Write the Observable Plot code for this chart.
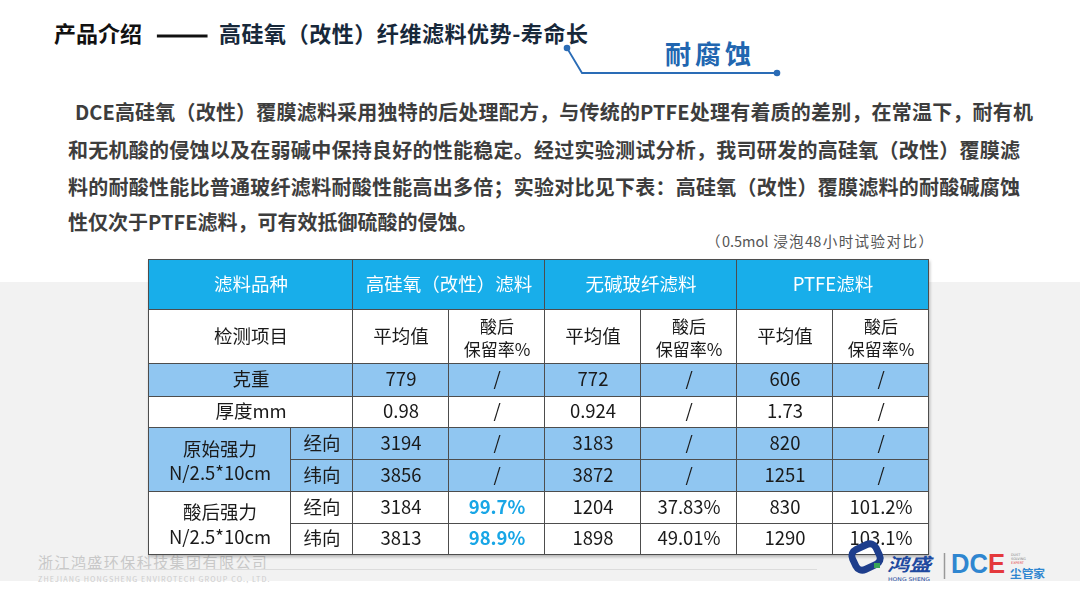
<!DOCTYPE html>
<html><head><meta charset="utf-8">
<script src="https://cdn.jsdelivr.net/npm/d3@7"></script>
<script src="https://cdn.jsdelivr.net/npm/@observablehq/plot@0.6"></script>
<style>
body{margin:0;background:#fff;}
#page{position:relative;width:1080px;height:606px;overflow:hidden;background:#fff;font-family:"Noto Sans CJK SC","Noto Sans",sans-serif;}
.abs{position:absolute;white-space:nowrap;}
#band{left:0;top:282px;width:1080px;height:299px;background:#f2f2f2;}
.t{top:17px;font-size:22px;font-weight:700;line-height:30px;}
#dash{transform-origin:0 50%;transform:scale(1.4,1);-webkit-text-stroke:0.9px #111;}
.para{font-size:20px;font-weight:700;color:#3d3d3d;line-height:36px;height:36px;text-align:justify;text-align-last:justify;}
#note{left:706px;top:230px;width:227px;font-size:14.5px;line-height:22px;color:#555;text-align:justify;text-align-last:justify;}
#sub{left:665px;top:36px;font-size:26px;font-weight:700;color:#2166b0;letter-spacing:4px;line-height:34px;}
#footcn{left:38px;top:551px;font-size:15px;letter-spacing:1.45px;color:#c8c8c8;line-height:22px;}
#footen{left:38px;top:574px;font-size:7.2px;letter-spacing:1.1px;color:#cdcdcd;line-height:10px;}
#tbl{left:148px;top:259px;}
#tbl svg{filter:drop-shadow(1px 2px 1.5px rgba(0,0,0,0.25));}
#deco,#logo{left:0;top:0;}
</style></head>
<body><div id="page">
<div id="band" class="abs"></div>
<div class="abs t" style="left:54px;color:#111;">产品介绍</div>
<div id="dash" class="abs t" style="left:156px;color:#111;">——</div>
<div class="abs t" style="left:219px;color:#17283a;letter-spacing:0.55px;">高硅氧（改性）纤维滤料优势-寿命长</div>
<div id="sub" class="abs">耐腐蚀</div>
<div id="p1" class="abs para" style="left:75px;top:94px;width:958px;"></div>
<div id="p2" class="abs para" style="left:68px;top:132px;width:952px;"></div>
<div id="p3" class="abs para" style="left:68px;top:169px;width:952px;"></div>
<div id="p4" class="abs para" style="left:68px;top:204px;text-align:left;text-align-last:left;"></div>
<div id="note" class="abs"></div>
<div id="footcn" class="abs">浙江鸿盛环保科技集团有限公司</div>
<div id="footen" class="abs">ZHEJIANG HONGSHENG ENVIROTECH GROUP CO., LTD.</div>
<svg id="deco" class="abs" width="1080" height="606" style="pointer-events:none;">
  <polyline points="567,48 582,73 777,73" fill="none" stroke="#2a6cb6" stroke-width="1.8"/>
  <circle cx="567" cy="48" r="3.3" fill="#2a6cb6"/>
  <circle cx="777" cy="73" r="3.3" fill="#2a6cb6"/>
  <line x1="38" y1="569.5" x2="817" y2="569.5" stroke="#dcdcdc" stroke-width="1"/>
</svg>
<div id="tbl" class="abs"></div>
<svg id="logo" class="abs" width="1080" height="606" style="pointer-events:none;">
  <g transform="rotate(-25 866 557)">
    <rect x="853" y="546" width="26" height="22" rx="7" fill="none" stroke="#1e3e8c" stroke-width="7"/>
  </g>
  <rect x="874" y="563" width="6" height="5" fill="#3aa657"/>
  <text x="887" y="571" font-size="18" font-weight="700" font-style="italic" fill="#1f4aa0" font-family="Noto Sans CJK SC" textLength="44" lengthAdjust="spacingAndGlyphs">鸿盛</text>
  <text x="888" y="580.5" font-size="5" fill="#1f4aa0" font-family="DejaVu Sans" textLength="42" lengthAdjust="spacingAndGlyphs">HONG SHENG</text>
  <line x1="944.5" y1="553" x2="944.5" y2="579" stroke="#999" stroke-width="1.5"/>
  <text x="951" y="573" font-size="27" font-weight="700" fill="#2f86d0" font-family="Liberation Sans" textLength="54" lengthAdjust="spacingAndGlyphs">DC<tspan fill="#e4393c">E</tspan></text>
  <text x="1011" y="556" font-size="3.4" fill="#888" font-family="DejaVu Sans">DUST</text>
  <text x="1011" y="560" font-size="3.4" fill="#888" font-family="DejaVu Sans">SOLVING</text>
  <text x="1011" y="564" font-size="3.4" fill="#e4393c" font-family="DejaVu Sans">EXPERT</text>
  <text x="1010" y="578" font-size="11" font-weight="700" fill="#2f86d0" font-family="Noto Sans CJK SC" textLength="35" lengthAdjust="spacingAndGlyphs">尘管家</text>
</svg>
</div>
<script>
// ---- text content ----
const paragraphLines = [
  "DCE高硅氧（改性）覆膜滤料采用独特的后处理配方，与传统的PTFE处理有着质的差别，在常温下，耐有机",
  "和无机酸的侵蚀以及在弱碱中保持良好的性能稳定。经过实验测试分析，我司研发的高硅氧（改性）覆膜滤",
  "料的耐酸性能比普通玻纤滤料耐酸性能高出多倍；实验对比见下表：高硅氧（改性）覆膜滤料的耐酸碱腐蚀",
  "性仅次于PTFE滤料，可有效抵御硫酸的侵蚀。"
];
const noteText = "（0.5mol 浸泡48小时试验对比）";

// ---- table data ----
const materials = ["高硅氧（改性）滤料", "无碱玻纤滤料", "PTFE滤料"];
const headerLabel = "滤料品种";
const itemLabel = "检测项目";
const subHeaders = ["平均值", "酸后\n保留率%"];
const simpleRows = ["克重", "厚度mm"];
const strengthGroups = ["原始强力\nN/2.5*10cm", "酸后强力\nN/2.5*10cm"];
const directions = ["经向", "纬向"];
// average values per row (克重, 厚度, 原始经, 原始纬, 酸后经, 酸后纬) x material
const avgValues = [
  ["779", "772", "606"],
  ["0.98", "0.924", "1.73"],
  ["3194", "3183", "820"],
  ["3856", "3872", "1251"],
  ["3184", "1204", "830"],
  ["3813", "1898", "1290"]
];
const retention = [
  ["/", "/", "/"],
  ["/", "/", "/"],
  ["/", "/", "/"],
  ["/", "/", "/"],
  ["99.7%", "37.83%", "101.2%"],
  ["98.9%", "49.01%", "103.1%"]
];

paragraphLines.forEach((t, i) => document.getElementById("p" + (i + 1)).textContent = t);
document.getElementById("note").textContent = noteText;

// ---- layout ----
const colW = [142, 62, 96, 96, 96, 96, 96, 96];
const rowH = [50, 54, 33, 31, 32, 32, 32, 31];
const xe = [0]; colW.forEach(w => xe.push(xe[xe.length - 1] + w));
const ye = [0]; rowH.forEach(h => ye.push(ye[ye.length - 1] + h));
const C = {head: "#18aeea", light: "#90c6f1", white: "#ffffff", dark: "#1a1a1a", hi: "#18a6e6"};

const cells = [];
function cell(c0, c1, r0, r1, label, fill, color, kind = "n") {
  cells.push({x1: xe[c0], x2: xe[c1], y1: ye[r0], y2: ye[r1], label, fill, color, kind});
}
cell(0, 2, 0, 1, headerLabel, C.head, "#fff");
materials.forEach((m, i) => cell(2 + 2 * i, 4 + 2 * i, 0, 1, m, C.head, "#fff"));
cell(0, 2, 1, 2, itemLabel, C.white, C.dark);
materials.forEach((m, i) => subHeaders.forEach((s, j) => cell(2 + 2 * i + j, 3 + 2 * i + j, 1, 2, s, C.white, C.dark, j ? "two" : "n")));
const rowFill = [C.light, C.white, C.light, C.light, C.white, C.white];
simpleRows.forEach((lab, k) => cell(0, 2, 2 + k, 3 + k, lab, rowFill[k], C.dark));
strengthGroups.forEach((g, gi) => {
  cell(0, 1, 4 + 2 * gi, 6 + 2 * gi, g, rowFill[2 + 2 * gi], C.dark, "grp");
  directions.forEach((d, di) => cell(1, 2, 4 + 2 * gi + di, 5 + 2 * gi + di, d, rowFill[2 + 2 * gi + di], C.dark));
});
avgValues.forEach((row, r) => row.forEach((v, i) => {
  cell(2 + 2 * i, 3 + 2 * i, 2 + r, 3 + r, v, rowFill[r], C.dark);
  const rv = retention[r][i];
  const hi = i === 0 && rv !== "/";
  cell(3 + 2 * i, 4 + 2 * i, 2 + r, 3 + r, rv, rowFill[r], hi ? C.hi : C.dark, hi ? "bold" : "n");
}));

const cx = d => (d.x1 + d.x2) / 2, cy = d => (d.y1 + d.y2) / 2;
const W = xe[xe.length - 1], H = ye[ye.length - 1];
const chart = Plot.plot({
  width: W + 2, height: H + 2,
  margin: 0,
  x: {domain: [0, W], range: [0.5, W + 0.5], axis: null},
  y: {domain: [0, H], range: [0.5, H + 0.5], axis: null},
  style: {background: "transparent", fontFamily: "'Noto Sans CJK SC', sans-serif", overflow: "visible"},
  marks: [
    Plot.rect(cells, {x1: "x1", x2: "x2", y1: "y1", y2: "y2", fill: "fill", stroke: "#4d4d4d", strokeWidth: 1}),
    Plot.text(cells.filter(d => d.kind === "n"), {x: cx, y: cy, text: "label", fill: "color", fontSize: 18.5}),
    Plot.text(cells.filter(d => d.kind === "bold"), {x: cx, y: cy, text: "label", fill: "color", fontSize: 18.5, fontWeight: 700}),
    Plot.text(cells.filter(d => d.kind === "two"), {x: cx, y: cy, text: "label", fill: "color", fontSize: 17, lineHeight: 1.33}),
    Plot.text(cells.filter(d => d.kind === "grp"), {x: cx, y: cy, text: "label", fill: "color", fontSize: 18.5, lineHeight: 1.32})
  ]
});
document.getElementById("tbl").appendChild(chart);
</script>
</body></html>
